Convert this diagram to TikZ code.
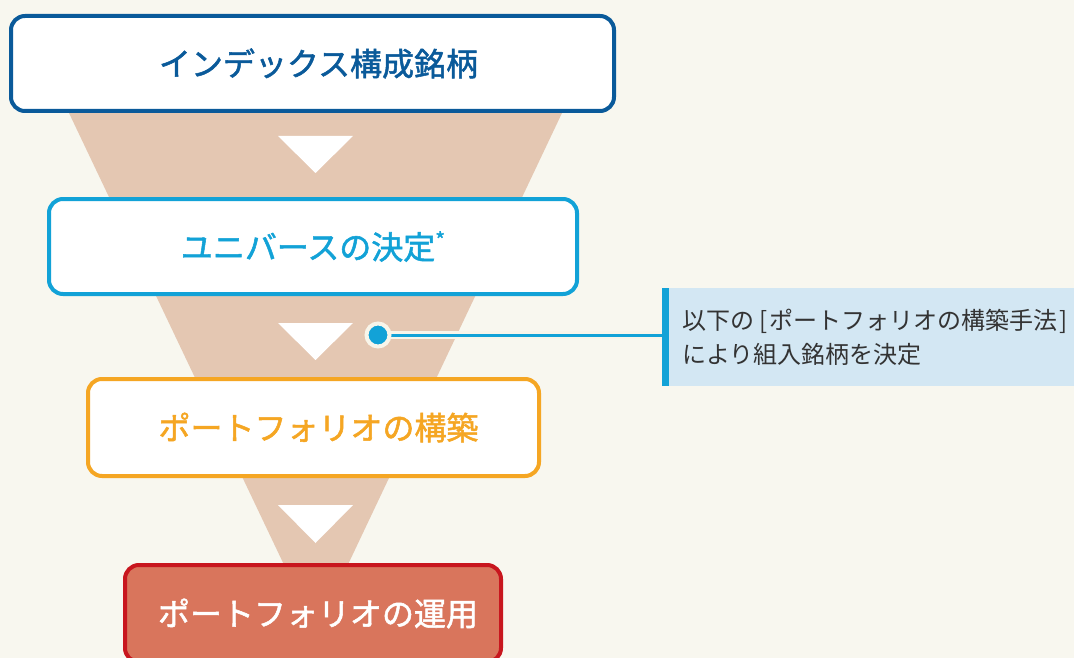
\documentclass[tikz,border=0pt]{standalone}
\usepackage{fontspec}
\newfontfamily\jp{Noto Sans CJK JP}
\newfontfamily\jpm{Noto Sans CJK JP}[FakeBold=1.6]
\definecolor{bgc}{HTML}{F8F7EF}
\definecolor{funnelc}{HTML}{E4C7B2}
\definecolor{blueA}{HTML}{0A5A9A}
\definecolor{blueB}{HTML}{12A2D7}
\definecolor{orangeC}{HTML}{F5A623}
\definecolor{redD}{HTML}{C8161E}
\definecolor{redfill}{HTML}{D9755C}
\definecolor{notefill}{HTML}{D3E7F3}
\definecolor{notetext}{HTML}{333333}
\definecolor{cream}{HTML}{F8F5EA}
\begin{document}
\begin{tikzpicture}[x=1pt,y=-1pt,
  stagebox/.style={rectangle, rounded corners=14pt, line width=4pt, fill=white, inner sep=0pt,
    font=\jpm\fontsize{32}{32}\selectfont},
  downtri/.style={fill=white},
  notebox/.style={rectangle, fill=notefill, inner xsep=20pt, inner ysep=0pt, align=left,
    text=notetext, font=\jp\fontsize{24}{34}\selectfont}
]
\fill[bgc] (0,0) rectangle (1074,658);
\useasboundingbox (0,0) rectangle (1074,658);
\clip (0,0) rectangle (1074,658);
% funnel
\fill[funnelc] (69,113) -- (562,113) -- (316,632) -- cycle;
% down triangles
\fill[downtri] (278,136) -- (353,136) -- (315.5,173) -- cycle;
\fill[downtri] (278,323) -- (353,323) -- (315.5,360) -- cycle;
\fill[downtri] (278,505) -- (353,505) -- (315.5,543) -- cycle;
% stage boxes
\node[stagebox, draw=blueA, text=blueA, minimum width=603pt, minimum height=95pt] (s1) at (312.5,63.5) {\hspace*{12pt}インデックス構成銘柄};
\node[stagebox, draw=blueB, text=blueB, minimum width=528pt, minimum height=95pt] (s2) at (313,246.5) {ユニバースの決定\raisebox{0.35em}{\fontsize{21}{21}\selectfont *}};
\node[stagebox, draw=orangeC, text=orangeC, minimum width=451pt, minimum height=97pt] (s3) at (313.5,427.5) {\hspace*{10pt}ポートフォリオの構築};
\node[stagebox, draw=redD, fill=redfill, text=white, minimum width=376pt, minimum height=97pt] (s4) at (313,613.5) {\hspace*{10pt}ポートフォリオの運用};
% callout
\node[notebox, text width=388pt, minimum height=98pt, anchor=west] (note) at (662,337)
  {以下の\hspace{5pt}[\hspace{2pt}ポートフォリオの構築手法\hspace{2pt}]\\により組入銘柄を決定};
\fill[blueB] (note.north west) rectangle ([xshift=7pt]note.south west);
\coordinate (dotc) at (378,335);
\draw[cream, line width=8pt] (dotc) -- (dotc -| note.west);
\draw[blueB, line width=3pt] (dotc) -- (dotc -| note.west);
\node[circle, fill=blueB, draw=cream, line width=4pt, minimum size=23pt, inner sep=0pt] (dot) at (dotc) {};
\end{tikzpicture}
\end{document}
